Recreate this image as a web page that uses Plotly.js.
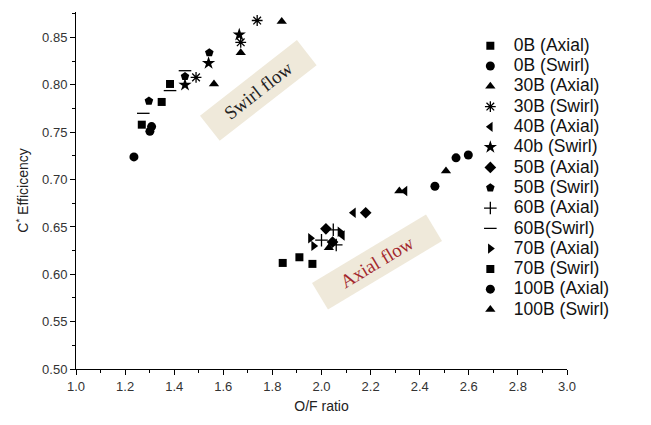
<!DOCTYPE html>
<html>
<head>
<meta charset="utf-8">
<script src="https://cdn.plot.ly/plotly-3.0.1.min.js"></script>
<style>html,body{margin:0;padding:0;background:#fff}#chart{width:651px;height:425px}</style>
</head>
<body>
<div id="chart"></div>
<script>
// Series data (O/F ratio, C* efficiency)
const names = ["0B (Axial)","0B (Swirl)","30B (Axial)","30B (Swirl)","40B (Axial)","40b (Swirl)","50B (Axial)","50B (Swirl)","60B (Axial)","60B(Swirl)","70B (Axial)","70B (Swirl)","100B (Axial)","100B (Swirl)"];
const x0BA = [1.842, 1.910, 1.963];        const y0BA = [0.612, 0.618, 0.611];
const x0BS = [1.236, 1.301, 1.308];        const y0BS = [0.724, 0.751, 0.756];
const x30BA = [2.030, 2.317, 2.507];       const y30BA = [0.628, 0.688, 0.709];
const x30BS = [1.489, 1.671, 1.738];       const y30BS = [0.808, 0.845, 0.868];
const x40BA = [2.085, 2.130, 2.340];       const y40BA = [0.641, 0.665, 0.688];
const x40BS = [1.444, 1.540, 1.665];       const y40BS = [0.800, 0.823, 0.853];
const x50BA = [2.018, 2.045, 2.180];       const y50BA = [0.648, 0.634, 0.665];
const x50BS = [1.297, 1.444, 1.543];       const y50BS = [0.783, 0.809, 0.834];
const x60BA = [2.000, 2.048, 2.060];       const y60BA = [0.636, 0.647, 0.631];
const x60BS = [1.274, 1.383, 1.444];       const y60BS = [0.770, 0.794, 0.815];
const x70BA = [1.955, 1.968, 2.075];       const y70BA = [0.638, 0.630, 0.645];
const x70BS = [1.268, 1.349, 1.383];       const y70BS = [0.758, 0.782, 0.801];
const x100BA = [2.462, 2.548, 2.598];      const y100BA = [0.693, 0.723, 0.726];
const x100BS = [1.562, 1.671, 1.838];      const y100BS = [0.801, 0.834, 0.867];

const xs = [x0BA,x0BS,x30BA,x30BS,x40BA,x40BS,x50BA,x50BS,x60BA,x60BS,x70BA,x70BS,x100BA,x100BS];
const ys = [y0BA,y0BS,y30BA,y30BS,y40BA,y40BS,y50BA,y50BS,y60BA,y60BS,y70BA,y70BS,y100BA,y100BS];
const symbols = ["square","circle","triangle-up","asterisk-open","triangle-left","star","diamond","pentagon","cross-thin-open","line-ew-open","triangle-right","square","circle","triangle-up"];
const sizes = [8,9,9,9,9,10,9,9,9,9,9,8,9,9];

const traces = names.map((n,i)=>({
  type:"scatter", mode:"markers",
  name:'<span style="font-size:17.5px">'+n+'</span>',
  x:xs[i], y:ys[i],
  marker:{symbol:symbols[i], size:sizes[i], color:"#000", line:{color:"#000", width: symbols[i].endsWith("-open")?1.3:0}}
}));

const layout = {
  width:651, height:425,
  margin:{l:76, r:84, t:12, b:56},
  paper_bgcolor:"#fff", plot_bgcolor:"#fff",
  font:{family:"Liberation Sans, Arial, sans-serif", color:"#222"},
  showlegend:true,
  legend:{x:0.796, xanchor:"left", y:0.948, yanchor:"top", font:{size:13.3, color:"#111"}, bgcolor:"rgba(0,0,0,0)", tracegroupgap:0, itemwidth:37},
  xaxis:{range:[1.0,3.0], dtick:0.2, tick0:1.0, tickformat:".1f", showgrid:false, zeroline:false,
    showline:true, linecolor:"#000", linewidth:1, ticks:"outside", ticklen:5, tickcolor:"#000",
    minor:{dtick:0.1, ticklen:3, tickcolor:"#000", ticks:"outside", showgrid:false},
    tickfont:{size:13, color:"#333"}, title:{text:"O/F ratio", font:{size:14, color:"#222"}, standoff:8}},
  yaxis:{range:[0.5,0.877], dtick:0.05, tick0:0.5, tickformat:".2f", showgrid:false, zeroline:false,
    showline:true, linecolor:"#000", linewidth:1, ticks:"outside", ticklen:5, tickcolor:"#000",
    minor:{dtick:0.025, ticklen:3, tickcolor:"#000", ticks:"outside", showgrid:false},
    tickfont:{size:13, color:"#333"}, title:{text:"C<sup>*</sup> Efficicency", font:{size:14, color:"#222"}, standoff:10}},
  annotations:[
    {xref:"paper", yref:"paper", xanchor:"center", yanchor:"middle", x:(258-76)/491, y:(369-90)/357, text:"Swirl flow", showarrow:false, textangle:-38,
     width:116, height:25, font:{family:"Liberation Serif, DejaVu Serif, serif", size:19, color:"#222"}, bgcolor:"#efe9da", borderpad:3},
    {xref:"paper", yref:"paper", xanchor:"center", yanchor:"middle", x:(377-76)/491, y:(369-262)/357, text:"Axial flow", showarrow:false, textangle:-31,
     width:126, height:24, font:{family:"Liberation Serif, DejaVu Serif, serif", size:19, color:"#a3282d"}, bgcolor:"#efe9da", borderpad:3}
  ]
};
Plotly.newPlot("chart", traces, layout, {displayModeBar:false, staticPlot:true});
</script>
</body>
</html>
